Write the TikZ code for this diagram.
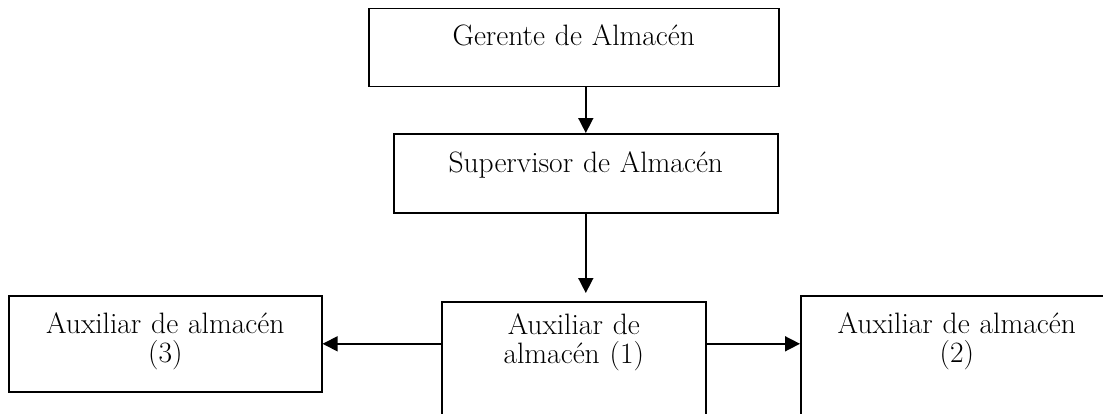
\documentclass[tikz,border=0pt]{standalone}
\usetikzlibrary{arrows.meta}
\begin{document}
\begin{tikzpicture}[x=1pt,y=-1pt,
  box/.style={draw,line width=1.6pt,rectangle,inner sep=0pt,anchor=north west},
  txt/.style={inner sep=0pt,anchor=base,align=center,
    font=\fontsize{29.5}{29}\selectfont},
  conn/.style={line width=1.6pt,-{Triangle[length=15pt,width=15pt]}}]
\useasboundingbox (0,0) rectangle (1103,413);
\clip (0,0) rectangle (1103,413);
% boxes
\node[box,minimum width=410,minimum height=78] (G) at (368,7.5) {};
\node[box,minimum width=384,minimum height=79] (S) at (393,133) {};
\node[box,minimum width=313,minimum height=96] (A3) at (8,295) {};
\node[box,minimum width=264,minimum height=150] (A1) at (441,301) {};
\node[box,minimum width=312,minimum height=150] (A2) at (800,295) {};
% labels
\node[txt,text width=410pt] (Gt) at ([yshift=-38pt]G.north) {Gerente de Almacén};
\node[txt,text width=384pt] (St) at ([yshift=-39pt]S.north) {Supervisor de Almacén};
\node[txt,text width=313pt] (A3t) at ([yshift=-38pt]A3.north) {Auxiliar de almacén\\(3)};
\node[txt,text width=264pt] (A1t) at ([yshift=-33pt]A1.north) {Auxiliar de\\almacén (1)};
\node[txt,text width=312pt] (A2t) at ([yshift=-38pt]A2.north) {Auxiliar de almacén\\(2)};
% connectors
\draw[conn] (G.south -| S.north) -- (S.north);
\draw[conn,shorten >=8pt] (S.south) -- (S.south |- A1.north);
\draw[conn] (A1.west |- A3.east) -- (A3.east);
\draw[conn] (A1.east |- A3.east) -- (A2.west |- A3.east);
\end{tikzpicture}
\end{document}
